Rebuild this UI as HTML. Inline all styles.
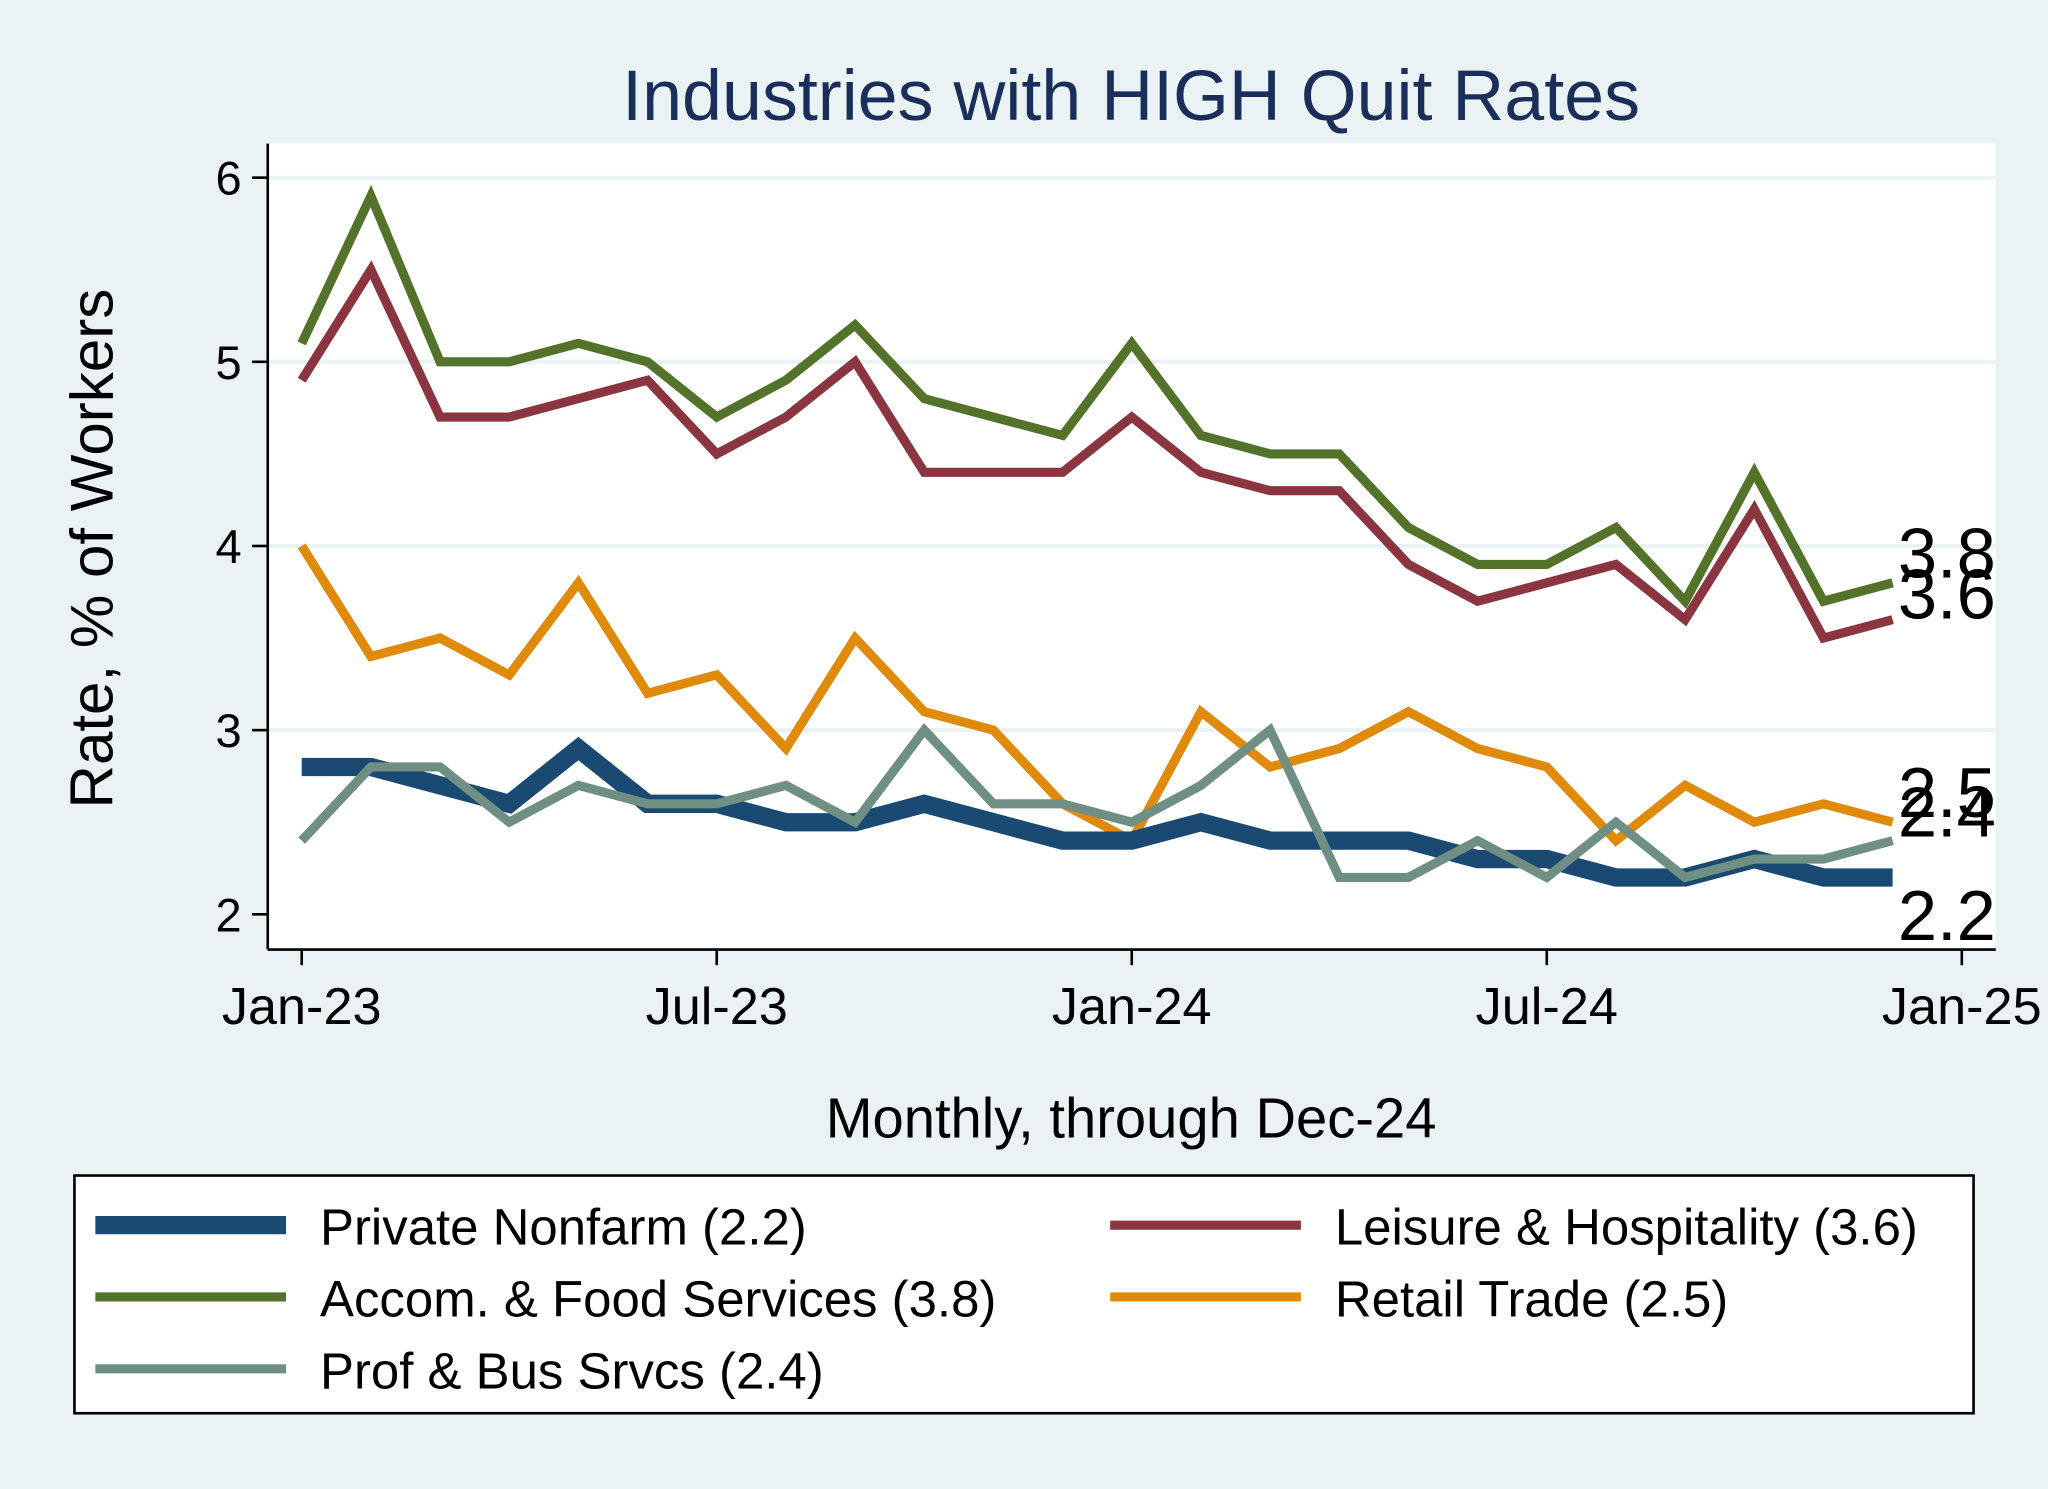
<!DOCTYPE html>
<html><head><meta charset="utf-8"><style>
html,body{margin:0;padding:0;background:#eaf2f3;}
svg{display:block;font-family:"Liberation Sans",Arial,sans-serif;}
</style></head><body>
<svg id="chart" width="2048" height="1489" viewBox="0 0 1568 1140" xmlns="http://www.w3.org/2000/svg">
<rect width="1568" height="1140" fill="#eaf2f3"/>
<rect x="205" y="110" width="1323" height="617" fill="#fff"/>
<text x="866" y="92" text-anchor="middle" font-size="55" fill="#1a2e5a">Industries with HIGH Quit Rates</text>
<text transform="translate(86,420) rotate(-90)" text-anchor="middle" font-size="46" fill="#000">Rate, % of Workers</text>
<text x="866" y="871" text-anchor="middle" font-size="43" fill="#000">Monthly, through Dec-24</text>
<g id="grid"></g><g id="axes"></g><g id="series"></g><g id="endlabels"></g>
<rect x="57" y="900" width="1454" height="182" fill="#fff" stroke="#000" stroke-width="2"/>
<g id="legend"></g>
</svg>
<script>
const months = 24;
const yTicks = [2,3,4,5,6];
const xTickLabels = ["Jan-23","Jul-23","Jan-24","Jul-24","Jan-25"];
const xTickIdx = [0,6,12,18,24];
const seriesNames = ["Private Nonfarm","Accom. & Food Services","Prof & Bus Srvcs","Leisure & Hospitality","Retail Trade"];
const privateNonfarm = [2.8,2.8,2.7,2.6,2.9,2.6,2.6,2.5,2.5,2.6,2.5,2.4,2.4,2.5,2.4,2.4,2.4,2.3,2.3,2.2,2.2,2.3,2.2,2.2];
const accomFood = [5.1,5.9,5.0,5.0,5.1,5.0,4.7,4.9,5.2,4.8,4.7,4.6,5.1,4.6,4.5,4.5,4.1,3.9,3.9,4.1,3.7,4.4,3.7,3.8];
const profBus = [2.4,2.8,2.8,2.5,2.7,2.6,2.6,2.7,2.5,3.0,2.6,2.6,2.5,2.7,3.0,2.2,2.2,2.4,2.2,2.5,2.2,2.3,2.3,2.4];
const leisure = [4.9,5.5,4.7,4.7,4.8,4.9,4.5,4.7,5.0,4.4,4.4,4.4,4.7,4.4,4.3,4.3,3.9,3.7,3.8,3.9,3.6,4.2,3.5,3.6];
const retail = [4.0,3.4,3.5,3.3,3.8,3.2,3.3,2.9,3.5,3.1,3.0,2.6,2.4,3.1,2.8,2.9,3.1,2.9,2.8,2.4,2.7,2.5,2.6,2.5];

const NS="http://www.w3.org/2000/svg";
const X = i => 231 + i*(1502-231)/24;
const Y = v => 700 - (v-2)*141;
function mk(tag, attrs, parent){const e=document.createElementNS(NS,tag);for(const k in attrs)e.setAttribute(k,attrs[k]);parent.appendChild(e);return e;}
const grid=document.getElementById('grid'), axes=document.getElementById('axes');
yTicks.forEach(t=>{
  if(t>2){const g=mk('line',{x1:205,x2:1528,y1:Y(t),y2:Y(t),stroke:'#eaf2f3','stroke-width':3},grid);
  
  }
  const tk=mk('line',{x1:193,x2:205,y1:Y(t),y2:Y(t),stroke:'#000','stroke-width':2},axes);
  
  
  const l=mk('text',{x:185,y:Y(t)+13,'text-anchor':'end','font-size':36},axes);l.textContent=t;
  
  
});
const ya=mk('line',{x1:205,x2:205,y1:110,y2:727,stroke:'#000','stroke-width':2},axes);


const xa=mk('line',{x1:205,x2:1528,y1:727,y2:727,stroke:'#000','stroke-width':2},axes);


xTickIdx.forEach((m,k)=>{
  const tk=mk('line',{x1:X(m),x2:X(m),y1:727,y2:739,stroke:'#000','stroke-width':2},axes);
  
  
  const l=mk('text',{x:X(m),y:784,'text-anchor':'middle','font-size':40},axes);l.textContent=xTickLabels[k];
  
  
});
const S=[
 {d:accomFood,c:'#53722a',w:7,n:'accom-food-line',dy:-4},
 {d:leisure,c:'#8b3540',w:7,n:'leisure-line',dy:-1},
 {d:retail,c:'#e08a0a',w:7,n:'retail-line',dy:-4},
 {d:privateNonfarm,c:'#1a4a72',w:14,n:'private-nonfarm-line',dy:48},
 {d:profBus,c:'#6f8f84',w:7,n:'prof-bus-line',dy:-3}
];
const sg=document.getElementById('series'), eg=document.getElementById('endlabels');
S.forEach(s=>{
  const pts=s.d.map((v,i)=>X(i)+','+Y(v)).join(' ');
  const p=mk('polyline',{points:pts,fill:'none',stroke:s.c,'stroke-width':s.w,'stroke-linejoin':'miter'},sg);
  
  
  const last=s.d[s.d.length-1];
  const t=mk('text',{x:X(23)+4,y:Y(last)+s.dy,'font-size':54},eg);t.textContent=last.toFixed(1);
  
  
});
const lg=document.getElementById('legend');
const L=[
 {n:seriesNames[0]+' (2.2)',c:'#1a4a72',w:14,x:73,y:940},
 {n:seriesNames[3]+' (3.6)',c:'#8b3540',w:7,x:850,y:940},
 {n:seriesNames[1]+' (3.8)',c:'#53722a',w:7,x:73,y:995},
 {n:seriesNames[4]+' (2.5)',c:'#e08a0a',w:7,x:850,y:995},
 {n:seriesNames[2]+' (2.4)',c:'#6f8f84',w:7,x:73,y:1050}
];
L.forEach(e=>{
  const ln=mk('line',{x1:e.x,x2:e.x+146,y1:e.y-2,y2:e.y-2,stroke:e.c,'stroke-width':e.w},lg);
  
  
  const t=mk('text',{x:e.x+172,y:e.y+13,'font-size':39},lg);t.textContent=e.n;
  
  
});
</script>
</body></html>
